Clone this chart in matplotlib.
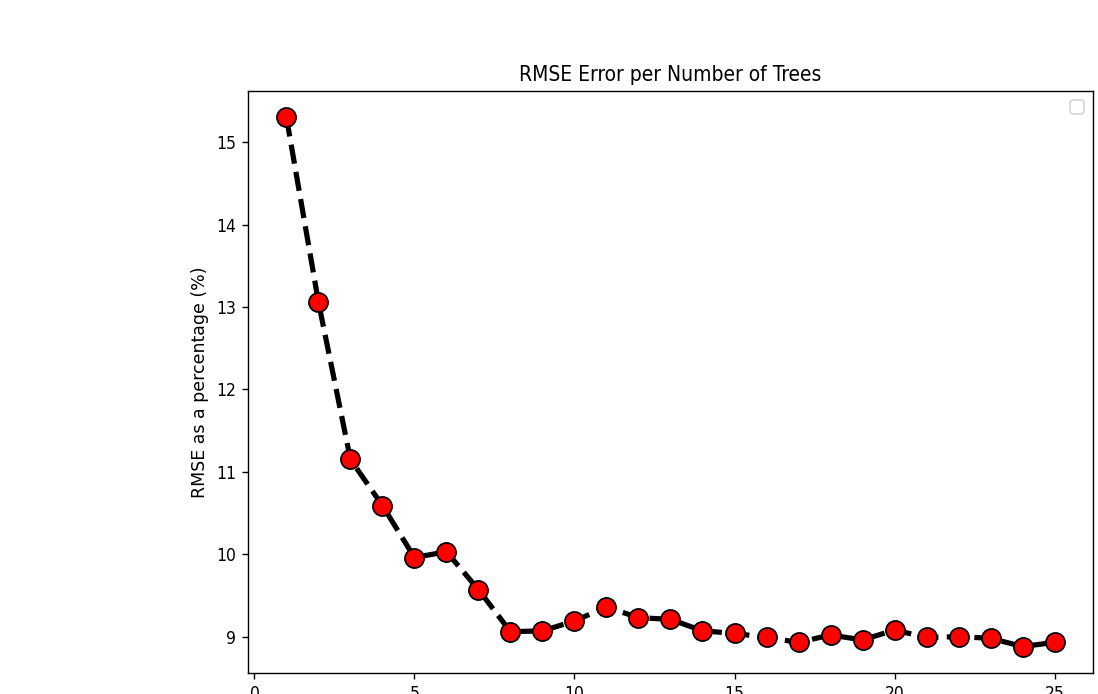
import matplotlib
matplotlib.use("Agg")
import matplotlib.pyplot as plt
from matplotlib import font_manager

# the reference looks like DejaVu squeezed sideways, so use the condensed face if it is there
try:
    path = font_manager.findfont(font_manager.FontProperties(family="DejaVu Sans", stretch="condensed"),
                                 fallback_to_default=False)
    if "Condensed" in path:
        plt.rcParams["font.stretch"] = "condensed"
except Exception:
    pass

# Number of trees vs RMSE (%)
n_trees = list(range(1, 26))
rmse = [15.30, 13.06, 11.15, 10.59, 9.96, 10.03, 9.57, 9.06, 9.07, 9.19,
        9.36, 9.23, 9.21, 9.07, 9.04, 8.99, 8.93, 9.02, 8.96, 9.08,
        8.99, 9.00, 8.98, 8.88, 8.93]

fig = plt.figure(figsize=(1098 / 125, 694 / 125), dpi=125)
ax = fig.add_axes([0.2259, 0.0303, 0.7695, 0.8386])

ax.plot(n_trees, rmse, color="black", linestyle="dashed", linewidth=3,
        marker="o", markerfacecolor="red", markeredgecolor="black", markersize=11)
ax.set_title("RMSE Error per Number of Trees")
# vertical label is not squeezed in the reference
ax.set_ylabel("RMSE as a percentage (%)", fontstretch="normal")
ax.legend()

fig.savefig("out.png", dpi=125)
